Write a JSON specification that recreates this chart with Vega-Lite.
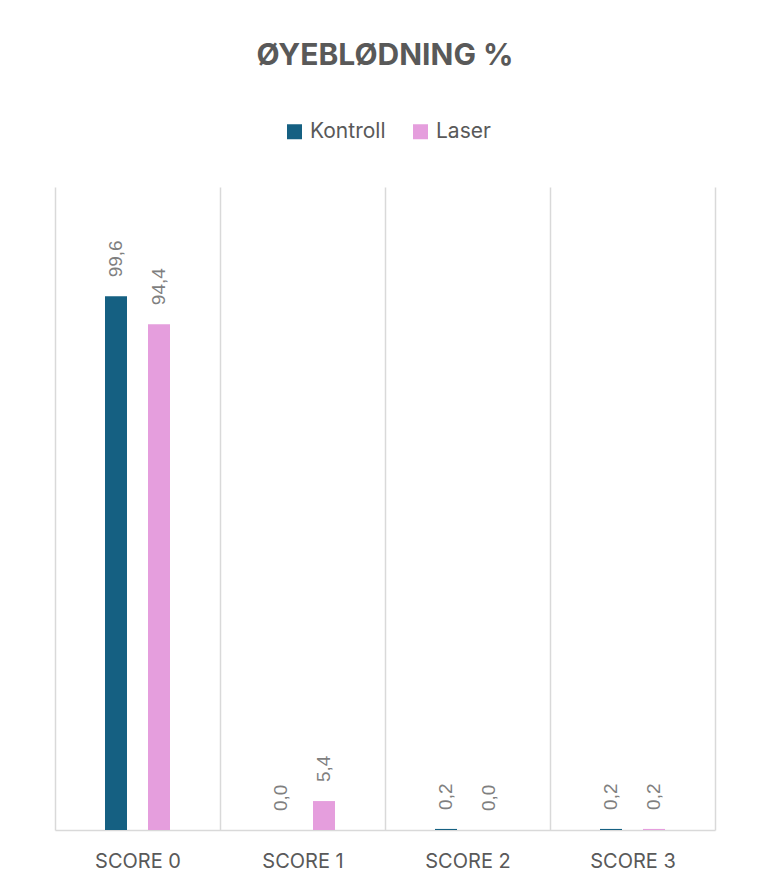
{
  "$schema": "https://vega.github.io/schema/vega-lite/v6.json",
  "width": 660,
  "height": 643,
  "autosize": {"type": "none"},
  "padding": {"left": 55, "top": 187, "right": 49, "bottom": 59},
  "background": "white",
  "data": {
    "values": [
      {"score": "SCORE 0", "gruppe": "Kontroll", "verdi": 99.6},
      {"score": "SCORE 0", "gruppe": "Laser", "verdi": 94.4},
      {"score": "SCORE 1", "gruppe": "Kontroll", "verdi": 0.0},
      {"score": "SCORE 1", "gruppe": "Laser", "verdi": 5.4},
      {"score": "SCORE 2", "gruppe": "Kontroll", "verdi": 0.2},
      {"score": "SCORE 2", "gruppe": "Laser", "verdi": 0.0},
      {"score": "SCORE 3", "gruppe": "Kontroll", "verdi": 0.2},
      {"score": "SCORE 3", "gruppe": "Laser", "verdi": 0.2}
    ]
  },
  "title": {
    "text": "ØYEBLØDNING %",
    "font": "Inter",
    "fontSize": 30,
    "fontWeight": "bold",
    "color": "#595959",
    "anchor": "middle",
    "offset": 50
  },
  "encoding": {
    "x": {
      "field": "score",
      "type": "nominal",
      "sort": null,
      "title": null,
      "scale": {"paddingInner": 0, "paddingOuter": 0},
      "axis": {
        "grid": true,
        "tickBand": "extent",
        "gridColor": "#d9d9d9",
        "gridWidth": 1.5,
        "domainColor": "#d9d9d9",
        "domainWidth": 1.5,
        "ticks": false,
        "labelAngle": 0,
        "labelFont": "Inter",
        "labelFontSize": 20,
        "labelColor": "#595959",
        "labelPadding": 21
      }
    },
    "xOffset": {
      "field": "gruppe",
      "type": "nominal",
      "sort": ["Kontroll", "Laser"],
      "scale": {"paddingInner": 0.163, "paddingOuter": 1}
    },
    "y": {
      "field": "verdi",
      "type": "quantitative",
      "scale": {"domain": [0, 120]},
      "axis": null
    }
  },
  "layer": [
    {
      "mark": {"type": "bar", "width": 22},
      "encoding": {
        "color": {
          "field": "gruppe",
          "type": "nominal",
          "sort": ["Kontroll", "Laser"],
          "scale": {"domain": ["Kontroll", "Laser"], "range": ["#156082", "#E59EDD"]},
          "legend": {
            "title": null,
            "orient": "none",
            "legendX": 229,
            "legendY": -66,
            "direction": "horizontal",
            "symbolType": "square",
            "symbolSize": 225,
            "symbolStrokeWidth": 0,
            "labelFont": "Inter",
            "labelFontSize": 21,
            "labelColor": "#595959",
            "columnPadding": 24,
            "labelOffset": 5
          }
        }
      }
    },
    {
      "mark": {
        "type": "text",
        "angle": 270,
        "align": "left",
        "baseline": "middle",
        "yOffset": -19,
        "font": "Liberation Sans",
        "fontSize": 19,
        "color": "#7f7f7f"
      },
      "encoding": {
        "text": {"field": "verdi", "type": "quantitative", "format": ".1f"}
      }
    }
  ],
  "config": {
    "view": {"stroke": null},
    "locale": {
      "number": {"decimal": ",", "thousands": " ", "grouping": [3], "currency": ["", " kr"]}
    }
  }
}
